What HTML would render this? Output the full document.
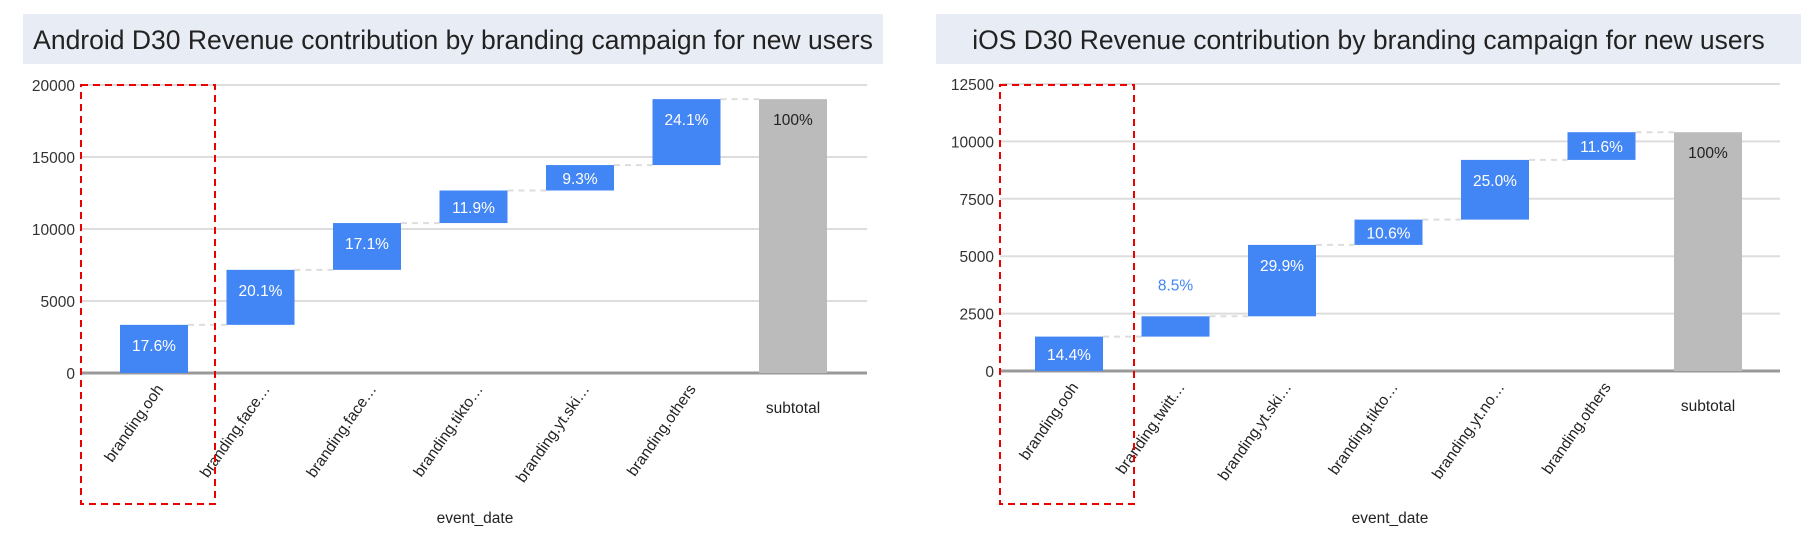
<!DOCTYPE html>
<html><head><meta charset="utf-8"><style>
body{margin:0;background:#fff;width:1814px;height:548px;overflow:hidden;font-family:"Liberation Sans",sans-serif}
svg{position:absolute;left:0;top:0}
</style></head><body>
<svg id="svg" width="1814" height="548" xmlns="http://www.w3.org/2000/svg"></svg>
<script>
const androidCategories=["branding.ooh","branding.face…","branding.face…","branding.tikto…","branding.yt.ski…","branding.others","subtotal"];
const androidValues=[3344,3819,3249,2261,1767,4579];
const androidLabels=["17.6%","20.1%","17.1%","11.9%","9.3%","24.1%","100%"];
const androidTicks=[0,5000,10000,15000,20000];
const iosCategories=["branding.ooh","branding.twitt…","branding.yt.ski…","branding.tikto…","branding.yt.no…","branding.others","subtotal"];
const iosValues=[1498,884,3110,1102,2600,1206];
const iosLabels=["14.4%","8.5%","29.9%","10.6%","25.0%","11.6%","100%"];
const iosTicks=[0,2500,5000,7500,10000,12500];

const NS="http://www.w3.org/2000/svg";
const svg=document.getElementById('svg');
function mk(tag,attrs,parent){const e=document.createElementNS(NS,tag);for(const k in attrs)e.setAttribute(k,attrs[k]);(parent||svg).appendChild(e);return e;}

function chart(o){
  const g=mk('g',{});
  
  
  const y=v=>o.y0-(v/o.ymax)*(o.y0-o.y1);
  const x=i=>o.c0+i*o.step;
  const bw=68;
  const tb=mk('rect',{x:o.tx,y:14,width:o.tw,height:50,fill:'#e8ecf4'},g);
  
  const t=mk('text',{x:o.tx+o.tw/2,y:49,'text-anchor':'middle','font-size':26.5,fill:'#222'},g);
  t.textContent=o.title;
  
  o.ticks.forEach(v=>{
    const l=mk('line',{x1:o.gx0,x2:o.gx1,y1:y(v),y2:y(v),stroke:v===0?'#999':'#ddd','stroke-width':v===0?3:2},g);
    
    const tt=mk('text',{x:o.gx0-6,y:y(v)+6,'text-anchor':'end','font-size':15.5,fill:'#333'},g);
    tt.textContent=v;
    
  });
  let cum=0;const total=o.values.reduce((a,b)=>a+b,0);
  o.values.forEach((v,i)=>{
    const top=y(cum+v),bot=y(cum);
    const r=mk('rect',{x:x(i)-bw/2,y:top,width:bw,height:bot-top,fill:'#4285f4'},g);
    
    const c=mk('line',{x1:x(i)+bw/2,x2:x(i+1)-bw/2,y1:top,y2:top,stroke:'#ddd','stroke-width':2,'stroke-dasharray':'6,5'},g);
    
    const small=(bot-top)<22;
    const ly=small?top-26:Math.min(top+26,(top+bot)/2+6);
    const lt=mk('text',{x:x(i),y:ly,'text-anchor':'middle','font-size':15.5,fill:small?'#4285f4':'#fff'},g);
    lt.textContent=o.labels[i];
    
    cum+=v;
  });
  const n=o.values.length;
  const sr=mk('rect',{x:x(n)-bw/2,y:y(total),width:bw,height:y(0)-y(total),fill:'#bbb'},g);
  
  const st=mk('text',{x:x(n),y:y(total)+26,'text-anchor':'middle','font-size':15.5,fill:'#222'},g);
  st.textContent=o.labels[n];
  
  o.cats.forEach((c,i)=>{
    let e;
    if(i===n){e=mk('text',{x:x(i),y:o.y0+40,'text-anchor':'middle','font-size':15.5,fill:'#222'},g);}
    else{e=mk('text',{x:0,y:0,'text-anchor':'end','font-size':15.5,fill:'#222',transform:`translate(${x(i)+10},${o.y0+16}) rotate(-55)`},g);}
    e.textContent=c;
    
  });
  const xt=mk('text',{x:o.xtx,y:523,'text-anchor':'middle','font-size':15.5,fill:'#222'},g);
  xt.textContent='event_date';
  
  const hb=mk('rect',{x:o.hx,y:85,width:134,height:419,fill:'none',stroke:'#e00','stroke-width':2,'stroke-dasharray':'7,5'},g);
  
}
chart({name:'android-chart',title:'Android D30 Revenue contribution by branding campaign for new users',tx:23,tw:860,
  gx0:81,gx1:867,y0:373,y1:85,ymax:20000,c0:154,step:106.5,values:androidValues,labels:androidLabels,cats:androidCategories,ticks:androidTicks,xtx:475,hx:81});
chart({name:'ios-chart',title:'iOS D30 Revenue contribution by branding campaign for new users',tx:936,tw:865,
  gx0:1000,gx1:1780,y0:371,y1:84,ymax:12500,c0:1069,step:106.5,values:iosValues,labels:iosLabels,cats:iosCategories,ticks:iosTicks,xtx:1390,hx:1000});
</script>
</body></html>
